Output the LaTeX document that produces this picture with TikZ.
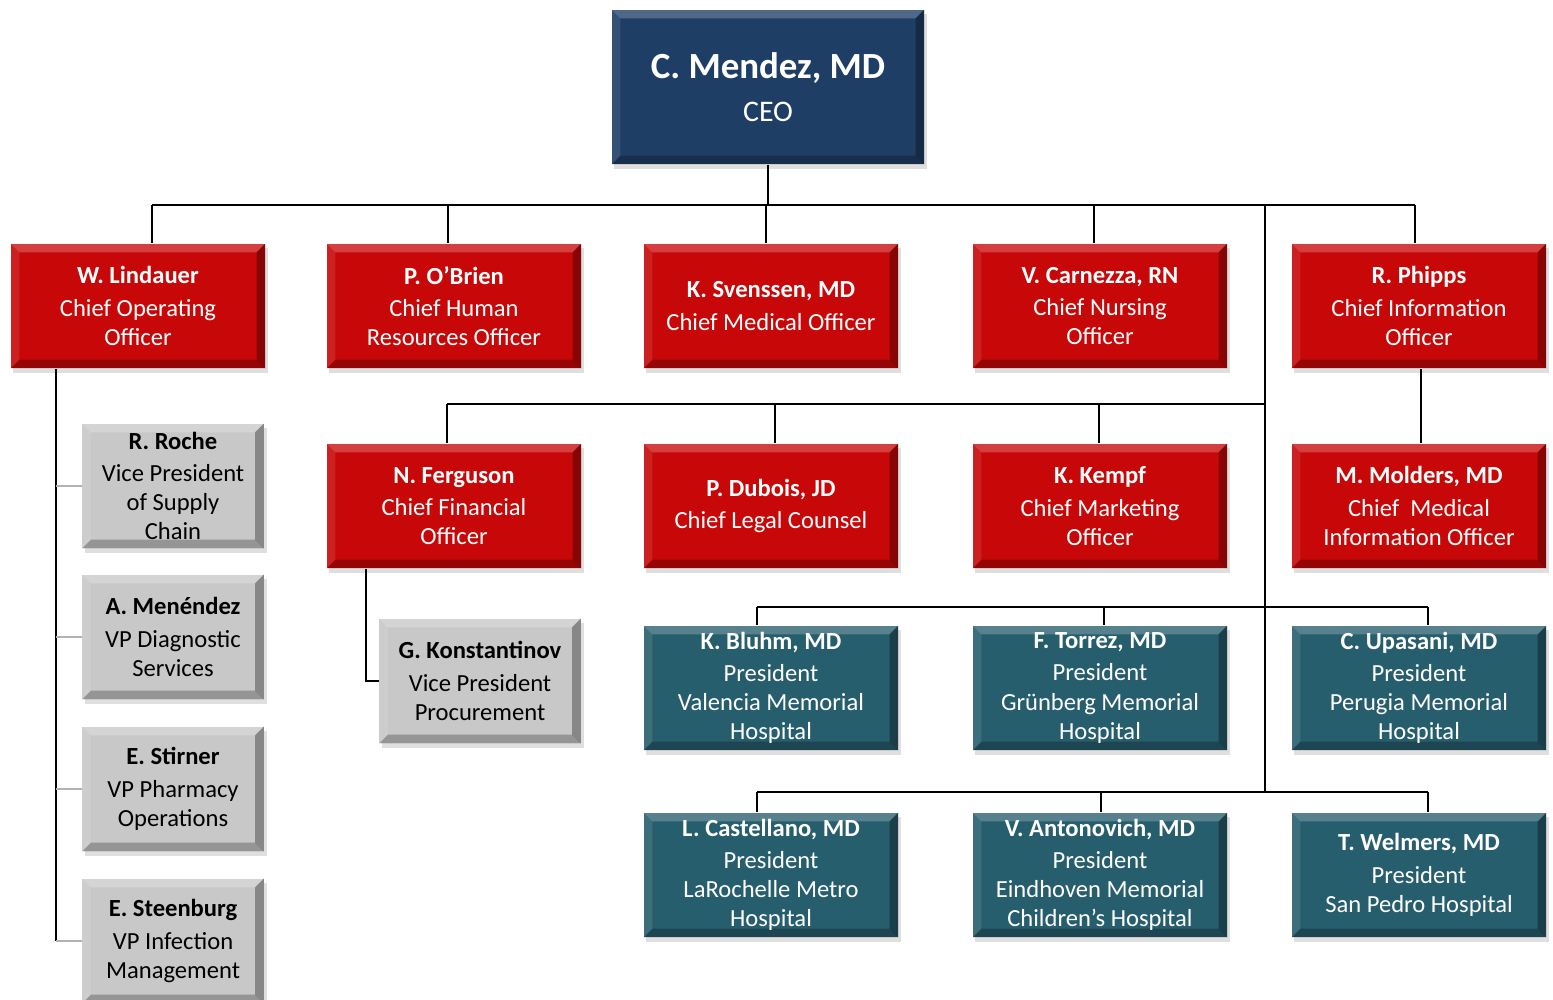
\documentclass[tikz,border=0pt]{standalone}
\usepackage{fontspec}
\setmainfont{Carlito}
\usetikzlibrary{shadows}
\definecolor{ceoblue}{HTML}{1F3E66}
\definecolor{chiefred}{HTML}{C80808}
\definecolor{hospteal}{HTML}{275E6E}
\definecolor{vpgrey}{HTML}{C8C8C8}

\newcommand{\pname}[1]{\textbf{#1}\\[1.8pt]}

\tikzset{
  box/.style={minimum width=5.1cm, minimum height=2.5cm, align=center, inner sep=2pt,
    font=\fontsize{14}{16.6}\selectfont, text=white,
    drop shadow={opacity=0.25, shadow xshift=1.5pt, shadow yshift=-2.5pt},
    path picture={
      \path (path picture bounding box.north west) coordinate (pnw)
            (path picture bounding box.north east) coordinate (pne)
            (path picture bounding box.south west) coordinate (psw)
            (path picture bounding box.south east) coordinate (pse);
      \fill[white, opacity=0.22] (pnw) -- (pne) -- ([shift={(-5pt,-5pt)}]pne) -- ([shift={(5pt,-5pt)}]pnw) -- cycle;
      \fill[white, opacity=0.10] (pnw) -- (psw) -- ([shift={(5pt,5pt)}]psw) -- ([shift={(5pt,-5pt)}]pnw) -- cycle;
      \fill[black, opacity=0.25] (psw) -- (pse) -- ([shift={(-5pt,5pt)}]pse) -- ([shift={(5pt,5pt)}]psw) -- cycle;
      \fill[black, opacity=0.32] (pne) -- (pse) -- ([shift={(-5pt,5pt)}]pse) -- ([shift={(-5pt,-5pt)}]pne) -- cycle;
    }},
  ceo/.style={box, fill=ceoblue, minimum width=6.26cm, minimum height=3.1cm},
  chief/.style={box, fill=chiefred},
  hosp/.style={box, fill=hospteal},
  vp/.style={box, fill=vpgrey, text=black, minimum width=3.64cm},
  conn/.style={line width=1.1pt},
  stub/.style={line width=1.1pt, draw=gray!60},
}

\begin{document}
\begin{tikzpicture}[x=0.02cm, y=-0.02cm]
  \useasboundingbox (0,0) rectangle (1553,1000);

  % chief executive
  \node[ceo] (ceo) at (768,87)
    {{\fontsize{21}{25}\selectfont\bfseries C. Mendez, MD}\\[8pt]{\fontsize{17}{20}\selectfont CEO}};

  % first row of chiefs
  \node[chief] (lind) at (138,306) {\pname{W. Lindauer}Chief Operating\\Officer};
  \node[chief] (obrien) at (454,306) {\pname{P. O’Brien}Chief Human\\Resources Officer};
  \node[chief] (svens) at (771,306) {\pname{K. Svenssen, MD}Chief Medical Officer};
  \node[chief] (carn) at (1100,306) {\pname{V. Carnezza, RN}Chief Nursing\\Officer};
  \node[chief] (phipps) at (1419,306) {\pname{R. Phipps}Chief Information\\Officer};

  % second row of chiefs
  \node[chief] (ferg) at (454,506) {\pname{N. Ferguson}Chief Financial\\Officer};
  \node[chief] (dubois) at (771,506) {\pname{P. Dubois, JD}Chief Legal Counsel};
  \node[chief] (kempf) at (1100,506) {\pname{K. Kempf}Chief Marketing\\Officer};
  \node[chief] (molders) at (1419,506) {\pname{M. Molders, MD}Chief\ \ Medical\\Information Officer};

  % hospital presidents
  \node[hosp] (bluhm) at (771,688) {\pname{K. Bluhm, MD}President\\Valencia Memorial\\Hospital};
  \node[hosp] (torrez) at (1100,688) {\pname{F. Torrez, MD}President\\Grünberg Memorial\\Hospital};
  \node[hosp] (upasani) at (1419,688) {\pname{C. Upasani, MD}President\\Perugia Memorial\\Hospital};
  \node[hosp] (castell) at (771,875) {\pname{L. Castellano, MD}President\\LaRochelle Metro\\Hospital};
  \node[hosp] (anton) at (1100,875) {\pname{V. Antonovich, MD}President\\Eindhoven Memorial\\Children’s Hospital};
  \node[hosp] (welmers) at (1419,875) {\pname{T. Welmers, MD}President\\San Pedro Hospital};

  % vice presidents
  \node[vp] (roche) at (173,486) {\pname{R. Roche}Vice President\\of Supply\\Chain};
  \node[vp] (menen) at (173,637) {\pname{A. Menéndez}VP Diagnostic\\Services};
  \node[vp] (stirner) at (173,789) {\pname{E. Stirner}VP Pharmacy\\Operations};
  \node[vp] (steen) at (173,941) {\pname{E. Steenburg}VP Infection\\Management};
  \node[vp, minimum width=4.04cm] (konst) at (480,681) {\pname{G. Konstantinov}Vice President\\Procurement};

  % buses
  \coordinate (busA) at (1265,205);
  \coordinate (busB) at (1265,404);
  \coordinate (busC) at (1265,607);
  \coordinate (busD) at (1265,792);

  \draw[conn] (ceo.south) -- (ceo.south |- busA);
  \draw[conn] ([xshift=0.28cm]lind.north |- busA) -- ([xshift=-0.08cm]phipps.north |- busA);
  \foreach \n/\dx in {lind/14, obrien/-6, svens/-5, carn/-6, phipps/-4}
    \draw[conn] ([xshift=\dx*0.02cm]\n.north) -- ([xshift=\dx*0.02cm]\n.north |- busA);
  \draw[conn] (busA) -- (busD);

  \draw[conn] ([xshift=-0.14cm]ferg.north |- busB) -- (busB);
  \foreach \n/\dx in {ferg/-7, dubois/4, kempf/-1}
    \draw[conn] ([xshift=\dx*0.02cm]\n.north) -- ([xshift=\dx*0.02cm]\n.north |- busB);
  \draw[conn] ([xshift=0.04cm]phipps.south) -- ([xshift=0.04cm]molders.north);

  \draw[conn] ([xshift=-0.28cm]bluhm.north |- busC) -- ([xshift=0.18cm]upasani.north |- busC);
  \foreach \n/\dx in {bluhm/-14, torrez/4, upasani/9}
    \draw[conn] ([xshift=\dx*0.02cm]\n.north) -- ([xshift=\dx*0.02cm]\n.north |- busC);
  \draw[conn] ([xshift=-0.28cm]castell.north |- busD) -- ([xshift=0.18cm]welmers.north |- busD);
  \foreach \n/\dx in {castell/-14, anton/1, welmers/9}
    \draw[conn] ([xshift=\dx*0.02cm]\n.north) -- ([xshift=\dx*0.02cm]\n.north |- busD);

  % operations spine
  \coordinate (spine) at ([xshift=-1.64cm]lind.south);
  \draw[conn] (spine) -- (spine |- steen.west);
  \foreach \n in {roche, menen, stirner, steen}
    \draw[stub] (spine |- \n.west) -- (\n.west);
  \draw[conn] ([xshift=-1.76cm]ferg.south) |- (konst.west);
\end{tikzpicture}
\end{document}
